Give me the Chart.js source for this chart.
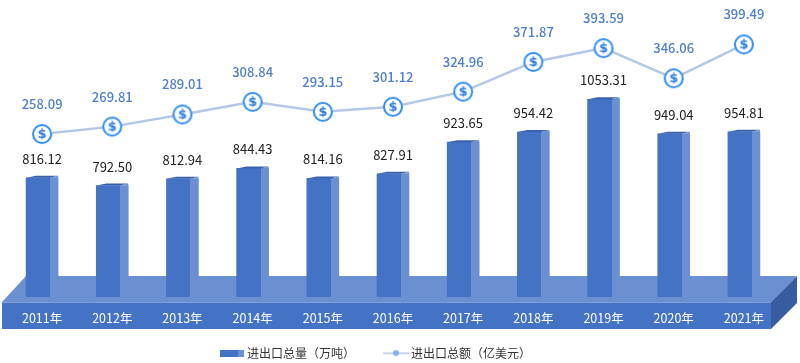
<!DOCTYPE html>
<html>
<head>
<meta charset="utf-8">
<script src="https://cdn.jsdelivr.net/npm/chart.js@4"></script>
<style>
    html, body { margin: 0; padding: 0; background: #fff; }
    #wrap { width: 800px; height: 363px; }
</style>
</head>
<body>
<div id="wrap"><canvas id="chart-trade"></canvas></div>
<script>
var years = ['2011年', '2012年', '2013年', '2014年', '2015年', '2016年', '2017年', '2018年', '2019年', '2020年', '2021年'];
var volume = [816.12, 792.50, 812.94, 844.43, 814.16, 827.91, 923.65, 954.42, 1053.31, 949.04, 954.81];
var amount = [258.09, 269.81, 289.01, 308.84, 293.15, 301.12, 324.96, 371.87, 393.59, 346.06, 399.49];
var volumeName = '进出口总量（万吨）';
var amountName = '进出口总额（亿美元）';

var font = '"Noto Sans CJK SC", "Noto Sans", sans-serif';
var frontColor = '#4472c4';
var sideColor = '#6b90d2';
var capColor = '#3a62aa';
var plinthSide = '#375c9f';
var plinthEdge = '#7f9fd9';
var lineColor = '#b4c7e7';
var ringColor = '#2e8df5';
var amountColor = '#4f7fcb';

function makeCanvas(w, h) {
    var c = document.createElement('canvas');
    c.width = w;
    c.height = h;
    return c;
}

// dollar coin used as the line's point
function coinIcon() {
    var c = makeCanvas(22, 22);
    var g = c.getContext('2d');
    g.beginPath();
    g.arc(11, 11, 9, 0, Math.PI * 2);
    g.fillStyle = '#fff';
    g.fill();
    g.lineWidth = 2;
    g.strokeStyle = ringColor;
    g.stroke();
    g.fillStyle = '#2f7fe0';
    g.font = 'bold 13px "DejaVu Sans"';
    g.textAlign = 'center';
    g.textBaseline = 'middle';
    g.fillText('$', 11, 11.5);
    return c;
}

function barSwatch() {
    var c = makeCanvas(24, 7);
    var g = c.getContext('2d');
    g.fillStyle = frontColor;
    g.fillRect(0, 0, 18, 7);
    g.fillStyle = sideColor;
    g.fillRect(18, 0, 6, 7);
    return c;
}

function lineSwatch() {
    var c = makeCanvas(26, 7);
    var g = c.getContext('2d');
    g.fillStyle = lineColor;
    g.fillRect(0, 3, 26, 1.5);
    g.beginPath();
    g.arc(13, 3.5, 3, 0, Math.PI * 2);
    g.fillStyle = '#7fb2f2';
    g.fill();
    return c;
}

// hard stop gradient: front face plus lit side face of each column
function barFill(ctx) {
    var chart = ctx.chart;
    var x = chart.scales.x.getPixelForValue(ctx.dataIndex);
    var grad = chart.ctx.createLinearGradient(x - 16, 0, x + 16, 0);
    grad.addColorStop(0, frontColor);
    grad.addColorStop(0.75, frontColor);
    grad.addColorStop(0.75, sideColor);
    grad.addColorStop(1, sideColor);
    return grad;
}

var plinthPlugin = {
    id: 'plinth',
    // full width brackets in the legend, the font squeezes them otherwise
    beforeUpdate: function(chart) {
        chart.ctx.fontKerning = 'none';
    },
    // legend sits left of centre and tight under the plinth in the original
    afterLayout: function(chart) {
        chart.legend.left -= 16;
        chart.legend.right -= 16;
        chart.legend.top = 315;
    },
    beforeDraw: function(chart) {
        var c = chart.ctx;
        c.fontKerning = 'none';
        var bottom = chart.chartArea.bottom;
        var top = bottom - 21, front = bottom + 5, base = bottom + 32;
        var l = 2, r = 771, rb = 797, lb = 26;
        function poly(pts, color) {
            c.beginPath();
            pts.forEach(function(p, i) { i ? c.lineTo(p[0], p[1]) : c.moveTo(p[0], p[1]); });
            c.closePath();
            c.fillStyle = color;
            c.fill();
        }
        poly([[lb, top], [rb, top], [r, front], [l, front]], sideColor);
        poly([[r, front], [rb, top], [rb, base - 26], [r, base]], plinthSide);
        poly([[l, front], [r, front], [r, base], [l, base]], frontColor);
        c.fillStyle = plinthEdge;
        c.fillRect(l, front, r - l, 1);
    }
};

var capPlugin = {
    id: 'caps',
    afterDatasetDraw: function(chart, args) {
        if (args.index !== 0) return;
        var c = chart.ctx;
        args.meta.data.forEach(function(bar) {
            var x = bar.x, y = bar.y;
            c.beginPath();
            c.moveTo(x - 16, y);
            c.lineTo(x - 6, y - 2);
            c.lineTo(x + 16, y - 2);
            c.lineTo(x + 8, y);
            c.closePath();
            c.fillStyle = capColor;
            c.fill();
            c.beginPath();
            c.moveTo(x + 8, y);
            c.lineTo(x + 16, y - 2);
            c.lineTo(x + 16, y);
            c.closePath();
            c.fillStyle = sideColor;
            c.fill();
        });
    }
};

var valueLabels = {
    id: 'valueLabels',
    afterDatasetsDraw: function(chart) {
        var c = chart.ctx;
        c.save();
        c.font = '13px ' + font;
        c.textAlign = 'center';
        c.textBaseline = 'middle';
        chart.getDatasetMeta(0).data.forEach(function(el, i) {
            c.fillStyle = '#222';
            c.fillText(volume[i].toFixed(2), el.x, el.y - 19);
        });
        c.font = '500 13px ' + font;
        chart.getDatasetMeta(1).data.forEach(function(el, i) {
            c.fillStyle = amountColor;
            c.fillText(amount[i].toFixed(2), el.x, el.y - 30);
        });
        c.restore();
    }
};

new Chart(document.getElementById('chart-trade'), {
    data: {
        labels: years,
        datasets: [{
            type: 'bar',
            label: volumeName,
            data: volume,
            yAxisID: 'y',
            backgroundColor: barFill,
            barThickness: 32,
            order: 2
        },
        {
            type: 'line',
            label: amountName,
            data: amount,
            yAxisID: 'y1',
            borderColor: lineColor,
            borderWidth: 2.5,
            pointStyle: coinIcon(),
            // image points ignore the radius, a big one only adds layout overflow
            pointRadius: 1,
            pointBorderWidth: 0,
            tension: 0,
            clip: false,
            order: 1
        }]
    },
    options: {
        responsive: true,
        maintainAspectRatio: false,
        animation: false,
        layout: { padding: { left: 7, right: 21, top: 0, bottom: -21 } },
        plugins: {
            tooltip: { enabled: false },
            legend: {
                position: 'bottom',
                labels: {
                    font: { family: font, size: 12 },
                    color: '#333',
                    usePointStyle: true,
                    pointStyleWidth: 18,
                    padding: 32,
                    generateLabels: function() {
                        return [
                            { text: volumeName, pointStyle: barSwatch(), datasetIndex: 0, fontColor: '#333', lineWidth: 0 },
                            { text: amountName, pointStyle: lineSwatch(), datasetIndex: 1, fontColor: '#333', lineWidth: 0 }
                        ];
                    }
                }
            }
        },
        scales: {
            x: {
                afterFit: function(scale) {
                    scale.height = 33;
                    scale.paddingLeft = 0;
                    scale.paddingRight = 0;
                },
                grid: { display: false, drawTicks: false },
                border: { display: false },
                ticks: { color: '#fff', font: { family: font, size: 12.5 }, padding: 14, maxRotation: 0 }
            },
            y: { display: false, min: 456, max: 1341 },
            y1: { display: false, min: 1.1, max: 463.2 }
        }
    },
    plugins: [plinthPlugin, capPlugin, valueLabels]
});
</script>
</body>
</html>
